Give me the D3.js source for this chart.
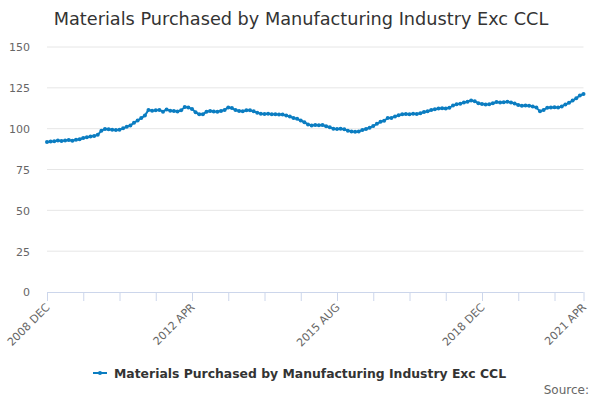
<!DOCTYPE html>
<html>
<head>
<meta charset="utf-8">
<script src="https://cdn.jsdelivr.net/npm/d3@7"></script>
<style>
  html, body { margin: 0; padding: 0; background: #fff; }
  svg { display: block; font-family: "DejaVu Sans", sans-serif; }
</style>
</head>
<body>
<svg id="chart" width="600" height="400"></svg>
<script>
const title = "Materials Purchased by Manufacturing Industry Exc CCL";
const seriesName = "Materials Purchased by Manufacturing Industry Exc CCL";
const monthNames = ["JAN","FEB","MAR","APR","MAY","JUN","JUL","AUG","SEP","OCT","NOV","DEC"];
const startYear = 2008, startMonth = 11; // DEC 2008
const values = [
  91.8, 92.2, 92.3, 92.8, 92.4, 92.8, 93.0, 92.6, 93.2, 93.5,
  94.3, 94.8, 95.2, 95.5, 96.2, 98.8, 99.8, 99.6, 99.3, 99.2,
  99.4, 100.2, 101.2, 102.0, 103.6, 105.0, 106.5, 108.0, 111.5, 111.0,
  111.2, 111.5, 110.4, 111.8, 110.9, 110.8, 110.5, 111.2, 113.2, 113.0,
  112.0, 110.0, 108.8, 108.9, 110.3, 110.8, 110.5, 110.4, 110.8, 111.5,
  113.0, 112.6, 111.4, 110.8, 110.6, 111.3, 111.2, 110.6, 109.8, 109.2,
  109.0, 109.1, 108.8, 108.9, 108.6, 108.7, 108.0, 107.4, 106.5, 106.0,
  105.0, 104.0, 102.5, 102.0, 102.2, 102.1, 102.2, 101.5, 100.9, 100.0,
  99.8, 99.9, 99.6, 98.8, 98.3, 98.1, 98.3, 99.2, 99.8, 100.6,
  101.6, 103.0, 104.2, 104.8, 106.5, 106.6, 107.5, 108.2, 108.8, 109.0,
  108.9, 109.1, 109.0, 109.5, 110.2, 110.6, 111.4, 111.9, 112.4, 112.5,
  112.3, 112.8, 114.2, 115.0, 115.2, 116.0, 116.5, 117.3, 116.8, 115.6,
  115.1, 114.8, 115.0, 115.5, 116.3, 116.0, 116.2, 116.5, 116.0, 115.4,
  114.5, 114.0, 114.2, 114.1, 113.6, 112.9, 110.6, 111.5, 112.8, 113.0,
  113.1, 113.0, 113.6, 114.8, 115.8, 117.2, 118.6, 120.3, 121.2
];
const categories = values.map((_, i) => {
  const m = startMonth + i;
  return (startYear + Math.floor(m / 12)) + " " + monthNames[m % 12];
});
const yTicks = [0, 25, 50, 75, 100, 125, 150];
const tickEvery = 10;
const labelEvery = 40;

const svg = d3.select("#chart");
const plot = { left: 47, right: 583.5, top: 47, bottom: 292 };

const x = d3.scalePoint().domain(categories).range([plot.left, plot.right]).padding(0);
const y = d3.scaleLinear().domain([0, 150]).range([plot.bottom, plot.top]);

// Title
svg.append("text")
  .attr("x", 301).attr("y", 25)
  .attr("text-anchor", "middle")
  .attr("fill", "#333333")
  .style("font-size", "17.7px")
  .text(title);

// Grid lines
svg.append("g").selectAll("line").data(yTicks.filter(d => d !== 0)).join("line")
  .attr("x1", plot.left).attr("x2", plot.right)
  .attr("y1", d => y(d)).attr("y2", d => y(d))
  .attr("stroke", "#e6e6e6").attr("stroke-width", 1);

// Y axis labels
const yAxis = d3.axisLeft(y).tickValues(yTicks).tickSize(0).tickPadding(0);
const yg = svg.append("g").attr("transform", `translate(${plot.left - 17},0)`).call(yAxis);
yg.select(".domain").remove();
yg.selectAll("text").attr("fill", "#666666").style("font-size", "11px")
  .style("font-family", "DejaVu Sans, sans-serif").attr("dy", "0.35em");

// X axis
const tickCats = categories.filter((c, i) => i % tickEvery === 0 || i === categories.length - 1);
const labelCats = categories.filter((c, i) => i % labelEvery === 0 || i === categories.length - 1);
const xAxis = d3.axisBottom(x).tickValues(tickCats).tickSize(9).tickFormat(d => labelCats.includes(d) ? d : "");
const xg = svg.append("g").attr("transform", `translate(0,${plot.bottom})`).call(xAxis);
xg.select(".domain").attr("stroke", "#ccd6eb").attr("d", `M${plot.left},0.5H${plot.right}`);
xg.selectAll(".tick line").attr("stroke", "#ccd6eb");
xg.selectAll(".tick text")
  .attr("fill", "#666666").style("font-size", "11px")
  .style("font-family", "DejaVu Sans, sans-serif")
  .attr("text-anchor", "end")
  .attr("dy", "0")
  .attr("transform", "translate(3,16) rotate(-45)")
  .attr("y", 0).attr("x", 0);

// Line
const color = "#0b7dc1";
const line = d3.line().x((d, i) => x(categories[i])).y(d => y(d));
svg.append("path").datum(values)
  .attr("d", line).attr("fill", "none")
  .attr("stroke", color).attr("stroke-width", 2).attr("stroke-linejoin", "round");
svg.append("g").selectAll("circle").data(values).join("circle")
  .attr("cx", (d, i) => x(categories[i])).attr("cy", d => y(d))
  .attr("r", 2).attr("fill", color);

// Legend
const lg = svg.append("g");
lg.append("line").attr("x1", 93).attr("x2", 107).attr("y1", 373).attr("y2", 373)
  .attr("stroke", color).attr("stroke-width", 2);
lg.append("circle").attr("cx", 100).attr("cy", 373).attr("r", 2).attr("fill", color);
lg.append("text").attr("x", 114).attr("y", 377.5)
  .attr("fill", "#333333").style("font-size", "12.4px").style("font-weight", "bold")
  .text(seriesName);

// Source
svg.append("text").attr("x", 589).attr("y", 394)
  .attr("text-anchor", "end").attr("fill", "#666666").style("font-size", "12px")
  .text("Source:");
</script>
</body>
</html>
